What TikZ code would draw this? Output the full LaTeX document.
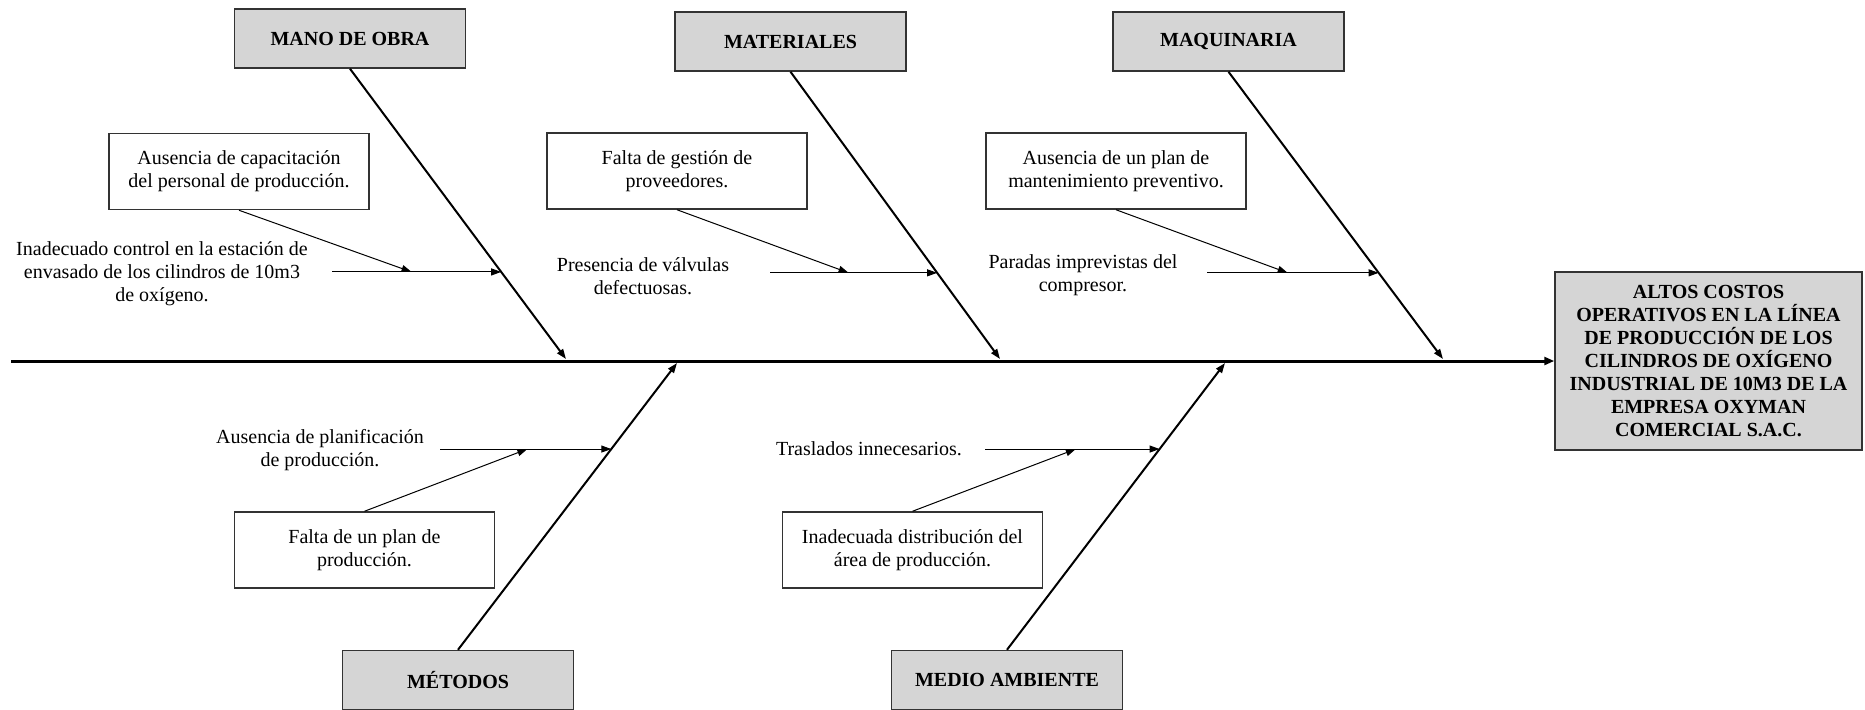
\documentclass[tikz,border=0pt]{standalone}
\usepackage{fontspec}
\setmainfont{Liberation Serif}
\usepackage{tikz}
\usetikzlibrary{arrows.meta, positioning, calc}

\begin{document}
\begin{tikzpicture}[x=0.5pt, y=-0.5pt,
    categoria/.style={draw=black!80, line width=0.75pt, fill=gray!33, minimum width=115.5pt, minimum height=29.5pt, inner sep=0pt, font=\bfseries},
    causa/.style={draw=black!80, line width=0.75pt, fill=white, minimum width=130pt, minimum height=38pt, inner sep=0pt, align=center, font=\fontsize{10}{11.5}\selectfont},
    texto/.style={inner sep=0pt, align=center, font=\fontsize{10}{11.5}\selectfont},
    efecto/.style={draw=black!80, line width=0.75pt, fill=gray!33, minimum width=153.5pt, minimum height=89pt, inner sep=0pt, align=center, font=\fontsize{10}{11.5}\selectfont\bfseries},
    espina/.style={line width=1.5pt, -{Triangle[length=5pt,width=4pt]}},
    hueso/.style={line width=1pt, -{Triangle[length=5pt,width=3.5pt]}},
    flecha/.style={line width=0.5pt, -{Triangle[length=5pt,width=3.5pt]}}]
\useasboundingbox (0,0) rectangle (1865,709);

% Efecto y espina
\node[efecto] (efecto) at (1708.5,361) {ALTOS COSTOS\\OPERATIVOS EN LA LÍNEA\\DE PRODUCCIÓN DE LOS\\CILINDROS DE OXÍGENO\\INDUSTRIAL DE 10M3 DE LA\\EMPRESA OXYMAN\\COMERCIAL S.A.C.};
\coordinate (s0) at (11,361);
\draw[espina] (s0) -- (efecto.west);
\coordinate (s1) at (566,359);
\coordinate (s2) at (1000,359);
\coordinate (s3) at (1443,359);
\coordinate (s4) at (677,363);
\coordinate (s5) at (1225,363);

% Mano de obra
\node[categoria] (mano) at (350,38.5) {MANO DE OBRA};
\draw[hueso] (mano.south) -- (s1);
\node[causa] (c1) at (239,171.5) {Ausencia de capacitación\\del personal de producción.};
\node[texto] (t1) at (162,274) {Inadecuado control en la estación de\\envasado de los cilindros de 10m3\\de oxígeno.};
\coordinate (b1) at ($(mano.south)!0.7!(s1)$);
\coordinate (h1) at (332,0 |- b1);
\draw[flecha] (h1) -- (b1);
\draw[flecha] (c1.south) -- ($(h1)!0.47!(b1)$);

% Materiales
\node[categoria] (mat) at (790.5,41.5) {MATERIALES};
\draw[hueso] (mat.south) -- (s2);
\node[causa] (c2) at (677,171) {Falta de gestión de\\proveedores.};
\node[texto] (t2) at (643,276) {Presencia de válvulas\\defectuosas.};
\coordinate (b2) at ($(mat.south)!0.7!(s2)$);
\coordinate (h2) at (770,0 |- b2);
\draw[flecha] (h2) -- (b2);
\draw[flecha] (c2.south) -- ($(h2)!0.47!(b2)$);

% Maquinaria
\node[categoria] (maq) at (1228.5,41.5) {MAQUINARIA};
\draw[hueso] (maq.south) -- (s3);
\node[causa] (c3) at (1116,171) {Ausencia de un plan de\\mantenimiento preventivo.};
\node[texto] (t3) at (1083,275) {Paradas imprevistas del\\compresor.};
\coordinate (b3) at ($(maq.south)!0.7!(s3)$);
\coordinate (h3) at (1207,0 |- b3);
\draw[flecha] (h3) -- (b3);
\draw[flecha] (c3.south) -- ($(h3)!0.47!(b3)$);

% Metodos
\node[categoria] (met) at (458,680) {MÉTODOS};
\draw[hueso] (met.north) -- (s4);
\node[causa] (c4) at (364.5,550) {Falta de un plan de\\producción.};
\node[texto] (t4) at (320,450) {Ausencia de planificación\\de producción.};
\coordinate (b4) at ($(met.north)!0.7!(s4)$);
\coordinate (h4) at (440,0 |- b4);
\draw[flecha] (h4) -- (b4);
\draw[flecha] (c4.north) -- ($(h4)!0.51!(b4)$);

% Medio ambiente
\node[categoria] (med) at (1007,680) {MEDIO AMBIENTE};
\draw[hueso] (med.north) -- (s5);
\node[causa] (c5) at (912.5,550) {Inadecuada distribución del\\área de producción.};
\node[texto] (t5) at (869,449) {Traslados innecesarios.};
\coordinate (b5) at ($(med.north)!0.7!(s5)$);
\coordinate (h5) at (985,0 |- b5);
\draw[flecha] (h5) -- (b5);
\draw[flecha] (c5.north) -- ($(h5)!0.52!(b5)$);
\end{tikzpicture}
\end{document}
